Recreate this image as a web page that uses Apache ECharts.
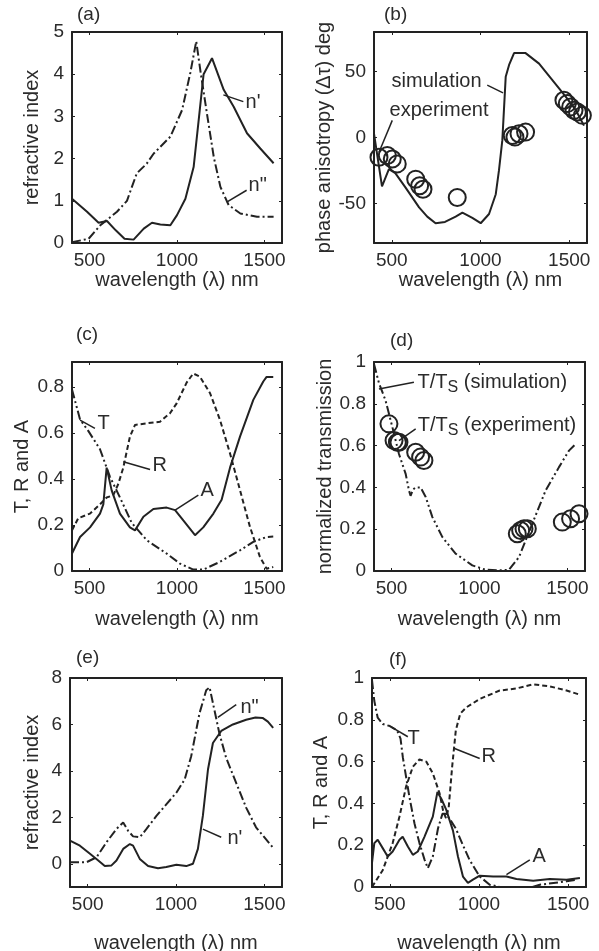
<!DOCTYPE html>
<html>
<head>
<meta charset="utf-8">
<script src="https://cdn.jsdelivr.net/npm/echarts@6/dist/echarts.min.js"></script>
<style>
  html, body { margin: 0; background: #fff; }
  #chart { width: 599px; height: 951px; }
</style>
</head>
<body>
<div id="chart"></div>
<script>
const xTicks = [500, 1000, 1500];
const aYTicks = [0, 1, 2, 3, 4, 5];
const bYTicks = [-50, 0, 50];
const cYTicks = [0, 0.2, 0.4, 0.6, 0.8];
const dYTicks = [0, 0.2, 0.4, 0.6, 0.8, 1];
const eYTicks = [0, 2, 4, 6, 8];
const fYTicks = [0, 0.2, 0.4, 0.6, 0.8, 1];

// (a) refractive index, n' and n"
const aNReal = [[400,1.05],[486,0.74],[552,0.48],[600,0.52],[650,0.3],[700,0.1],[752,0.08],[810,0.34],[857,0.48],[905,0.44],[962,0.42],[1000,0.66],[1048,1.05],[1095,1.8],[1130,3.15],[1152,4.0],[1200,4.38],[1267,3.63],[1324,3.23],[1400,2.6],[1476,2.24],[1552,1.89]];
const aNImag = [[400,0.02],[495,0.1],[562,0.42],[657,0.74],[714,1.0],[770,1.65],[827,1.88],[867,2.12],[962,2.52],[1029,3.15],[1076,4.03],[1110,4.78],[1133,4.1],[1171,3.07],[1210,2.04],[1248,1.33],[1295,0.9],[1362,0.7],[1457,0.62],[1552,0.62]];

// (b) phase anisotropy
const bSim = [[400,3],[445,-37],[484,-24],[520,-27],[578,-38],[654,-53],[700,-60],[747,-65],[800,-64],[860,-60],[898,-57],[954,-61],[1001,-65],[1048,-58],[1086,-43],[1104,-25],[1123,-2],[1142,46],[1161,55],[1189,64],[1254,64],[1330,56],[1405,43.5],[1480,31],[1536,21],[1583,9]];
const bExp = [[428,-15],[475,-13.7],[503,-16.3],[531,-20],[635,-31.6],[657,-36.6],[676,-39.2],[869,-45.5],[1179,1.5],[1194,0.3],[1217,2.8],[1254,4.1],[1470,28.2],[1489,25.7],[1508,23.2],[1527,20.6],[1546,19.3],[1574,16.8]];

// (c) T, R and A
const cT = [[400,0.79],[446,0.66],[493,0.61],[560,0.53],[617,0.41],[674,0.32],[741,0.21],[827,0.134],[941,0.076],[1017,0.032],[1093,0.006],[1150,0.006],[1246,0.04],[1360,0.09],[1436,0.127],[1512,0.148],[1550,0.15]];
const cR = [[400,0.177],[436,0.23],[503,0.25],[560,0.29],[598,0.32],[636,0.33],[665,0.38],[693,0.45],[731,0.585],[760,0.636],[827,0.643],[903,0.65],[960,0.687],[998,0.73],[1055,0.82],[1093,0.86],[1131,0.846],[1189,0.774],[1246,0.657],[1303,0.512],[1360,0.352],[1417,0.192],[1474,0.061],[1512,0.01],[1550,0.017]];
const cA = [[400,0.076],[446,0.148],[503,0.19],[560,0.25],[579,0.29],[598,0.45],[627,0.35],[674,0.25],[731,0.19],[760,0.177],[808,0.236],[865,0.27],[941,0.276],[989,0.265],[1036,0.22],[1103,0.156],[1150,0.19],[1208,0.25],[1255,0.31],[1303,0.45],[1360,0.585],[1436,0.745],[1493,0.825],[1512,0.845],[1550,0.845]];

// (d) normalized transmission
const dSim = [[400,0.99],[428,0.9],[466,0.815],[504,0.69],[542,0.56],[580,0.465],[599,0.385],[608,0.36],[622,0.39],[637,0.4],[665,0.4],[694,0.354],[732,0.258],[789,0.162],[864,0.083],[959,0.027],[1035,0.006],[1111,0.003],[1168,0.006],[1225,0.067],[1300,0.226],[1376,0.385],[1452,0.497],[1509,0.576],[1547,0.608]];
const dExp = [[485,0.704],[514,0.624],[533,0.616],[542,0.616],[637,0.568],[665,0.545],[684,0.529],[1215,0.178],[1234,0.194],[1253,0.202],[1272,0.202],[1471,0.234],[1518,0.25],[1566,0.274]];

// (e) refractive index
const eNReal = [[400,1.0],[456,0.78],[513,0.43],[560,0.14],[597,-0.1],[635,-0.07],[663,0.14],[701,0.64],[739,0.85],[757,0.78],[795,0.21],[842,-0.1],[898,-0.19],[945,-0.14],[1002,-0.04],[1058,-0.1],[1096,0.0],[1124,0.64],[1152,2.06],[1181,4.06],[1209,5.2],[1256,5.72],[1322,6.0],[1397,6.2],[1450,6.3],[1490,6.28],[1520,6.12],[1550,5.85]];
const eNImag = [[400,0.07],[494,0.07],[550,0.28],[607,0.93],[663,1.5],[701,1.78],[729,1.42],[757,1.18],[795,1.14],[833,1.5],[889,2.06],[945,2.56],[1002,3.06],[1049,3.63],[1086,4.63],[1133,6.48],[1171,7.47],[1190,7.6],[1218,6.6],[1246,5.6],[1284,4.56],[1340,3.49],[1397,2.42],[1453,1.57],[1547,0.71]];

// (f) T, R and A
const fT = [[400,0.99],[413,0.89],[432,0.81],[460,0.78],[500,0.77],[540,0.75],[560,0.71],[573,0.62],[610,0.43],[638,0.305],[666,0.21],[695,0.13],[713,0.09],[741,0.146],[770,0.28],[795,0.35],[815,0.35],[840,0.32],[870,0.28],[910,0.2],[947,0.13],[1004,0.05],[1060,0.011],[1116,0.0],[1300,0.0],[1341,0.011],[1491,0.027],[1548,0.035]];
const fR = [[400,0.0],[460,0.08],[516,0.21],[554,0.337],[591,0.48],[629,0.575],[666,0.61],[704,0.6],[741,0.544],[779,0.448],[800,0.36],[815,0.33],[830,0.38],[850,0.58],[870,0.75],[895,0.83],[930,0.86],[1004,0.9],[1116,0.94],[1210,0.95],[1304,0.97],[1397,0.96],[1491,0.94],[1566,0.92]];
const fA = [[400,0.115],[413,0.21],[432,0.226],[460,0.186],[488,0.146],[516,0.17],[554,0.226],[572,0.24],[601,0.194],[629,0.154],[657,0.17],[694,0.24],[741,0.337],[767,0.455],[790,0.42],[816,0.37],[854,0.27],[882,0.146],[910,0.05],[938,0.02],[966,0.035],[1004,0.054],[1079,0.05],[1154,0.05],[1210,0.038],[1304,0.03],[1397,0.038],[1491,0.035],[1566,0.043]];

// annotation text [x, y, text] and leader lines [x1, y1, x2, y2]
const aNotes = [[1389,3.32,"n'"],[1406,1.37,'n"']];
const aLeaders = [[1265,3.51,1379,3.35],[1284,0.97,1398,1.25]];
const bNotes = [[496,42.2,'simulation'],[485,20.6,'experiment']];
const bLeaders = [[1038,39.7,1127,33.8],[503,13,428,-11.2]];
const cNotes = [[543,0.643,'T'],[857,0.461,'R'],[1131,0.352,'A']];
const cLeaders = [[446,0.657,531,0.621],[693,0.476,846,0.442],[989,0.265,1122,0.33]];
const dNotes = [[645,0.9,'{a|T/T}{s|S}{a| (simulation)}'],[646,0.696,'{a|T/T}{s|S}{a| (experiment)}']];
const dLeaders = [[428,0.871,627,0.903],[542,0.624,637,0.68]];
const eNotes = [[1362,6.75,'n"'],[1288,1.07,"n'"]];
const eLeaders = [[1237,6.3,1341,6.85],[1152,1.49,1256,1.14]];
const fNotes = [[596,0.71,'T'],[1011,0.623,'R'],[1297,0.146,'A']];
const fLeaders = [[507,0.766,601,0.719],[863,0.663,1004,0.615],[1154,0.059,1285,0.13]];

const INK = '#222';
const TEXT = '#2b2b2b';
const FONT = '"Liberation Sans", Arial, Helvetica, sans-serif';
const DASH = [5, 3];
const DASHDOT = [9, 3, 2, 3];
const DASHDOTDOT = [9, 3, 2, 3, 2, 3];

const panels = [
  { tag: '(a)', tagPos: [77, 5], box: [72, 32, 210, 211], y: [0, 5], yTicks: aYTicks,
    yName: 'refractive index', yGap: 30, xGap: 26,
    lines: [[aNReal, 'solid'], [aNImag, DASHDOT]], circles: null, notes: aNotes, leaders: aLeaders },
  { tag: '(b)', tagPos: [384, 5], box: [374, 32, 213, 211], y: [-80, 80], yTicks: bYTicks,
    yName: 'phase anisotropy (\u0394\u03c4) deg', yGap: 38, xGap: 26,
    lines: [[bSim, 'solid']], circles: bExp, notes: bNotes, leaders: bLeaders },
  { tag: '(c)', tagPos: [76, 325], box: [72, 362, 210, 209], y: [0, 0.91], yTicks: cYTicks,
    yName: 'T, R and A', yGap: 40, xGap: 38,
    lines: [[cT, DASHDOTDOT], [cR, DASH], [cA, 'solid']], circles: null, notes: cNotes, leaders: cLeaders },
  { tag: '(d)', tagPos: [390, 331], box: [374, 362, 211, 209], y: [0, 1], yTicks: dYTicks,
    yName: 'normalized transmission', yGap: 38, xGap: 38,
    lines: [[dSim, DASHDOTDOT]], circles: dExp, notes: dNotes, leaders: dLeaders },
  { tag: '(e)', tagPos: [76, 648], box: [70, 678, 212, 209], y: [-1, 8], yTicks: eYTicks,
    yName: 'refractive index', yGap: 28, xGap: 46,
    lines: [[eNReal, 'solid'], [eNImag, DASHDOT]], circles: null, notes: eNotes, leaders: eLeaders },
  { tag: '(f)', tagPos: [389, 650], box: [372, 678, 214, 209], y: [0, 1], yTicks: fYTicks,
    yName: 'T, R and A', yGap: 41, xGap: 46,
    lines: [[fT, DASHDOT], [fR, DASH], [fA, 'solid']], circles: null, notes: fNotes, leaders: fLeaders }
];

const option = {
  animation: false,
  backgroundColor: '#fff',
  title: [], grid: [], xAxis: [], yAxis: [], series: []
};

const tickStyle = { inside: true, length: 3, lineStyle: { color: INK, width: 1 } };
const lineAxis = { onZero: false, lineStyle: { color: INK, width: 2 } };
const labelText = { color: TEXT, fontSize: 19, fontFamily: FONT, formatter: v => String(v) };

panels.forEach((p, i) => {
  option.title.push({
    text: p.tag, left: p.tagPos[0], top: p.tagPos[1], padding: 0,
    textStyle: { color: TEXT, fontSize: 19, fontWeight: 'normal', fontFamily: FONT }
  });
  // fixed boxes: do not let the grid shrink to fit names inside the canvas
  option.grid.push({
    left: p.box[0], top: p.box[1], width: p.box[2], height: p.box[3],
    containLabel: false, outerBoundsMode: 'none'
  });

  const xi = option.xAxis.length;
  option.xAxis.push({
    type: 'value', gridIndex: i, min: 400, max: 1600, position: 'bottom',
    name: 'wavelength (\u03bb) nm', nameLocation: 'middle', nameGap: p.xGap,
    nameTextStyle: { color: TEXT, fontSize: 20, fontFamily: FONT },
    axisLine: lineAxis,
    axisTick: Object.assign({ customValues: xTicks }, tickStyle),
    axisLabel: Object.assign({ customValues: xTicks, margin: 8 }, labelText),
    splitLine: { show: false }
  });
  option.xAxis.push({
    type: 'value', gridIndex: i, min: 400, max: 1600, position: 'top',
    axisLine: lineAxis,
    axisTick: Object.assign({ customValues: xTicks }, tickStyle),
    axisLabel: { show: false }, splitLine: { show: false }
  });
  const yi = option.yAxis.length;
  option.yAxis.push({
    type: 'value', gridIndex: i, min: p.y[0], max: p.y[1], position: 'left',
    name: p.yName, nameLocation: 'middle', nameGap: p.yGap, nameRotate: 90,
    nameTextStyle: { color: TEXT, fontSize: 20, fontFamily: FONT },
    axisLine: lineAxis,
    axisTick: Object.assign({ customValues: p.yTicks }, tickStyle),
    axisLabel: Object.assign({ customValues: p.yTicks, margin: 8 }, labelText),
    splitLine: { show: false }
  });
  option.yAxis.push({
    type: 'value', gridIndex: i, min: p.y[0], max: p.y[1], position: 'right',
    axisLine: lineAxis,
    axisTick: Object.assign({ customValues: p.yTicks }, tickStyle),
    axisLabel: { show: false }, splitLine: { show: false }
  });

  p.lines.forEach(([data, type]) => {
    option.series.push({
      type: 'line', xAxisIndex: xi, yAxisIndex: yi, data: data,
      symbol: 'none', silent: true,
      lineStyle: { color: INK, width: 2, type: type }
    });
  });

  if (p.circles) {
    option.series.push({
      type: 'scatter', xAxisIndex: xi, yAxisIndex: yi, data: p.circles,
      symbol: 'circle', symbolSize: 17, silent: true,
      itemStyle: { color: 'rgba(0,0,0,0)', borderColor: INK, borderWidth: 2, opacity: 1 }
    });
  }

  option.series.push({
    type: 'lines', coordinateSystem: 'cartesian2d', xAxisIndex: xi, yAxisIndex: yi,
    silent: true,
    data: p.leaders.map(l => ({ coords: [[l[0], l[1]], [l[2], l[3]]] })),
    lineStyle: { color: INK, width: 1.5, type: 'solid', opacity: 1 }
  });

  option.series.push({
    type: 'scatter', xAxisIndex: xi, yAxisIndex: yi, silent: true,
    symbolSize: 1, itemStyle: { color: 'rgba(0,0,0,0)', opacity: 1 },
    data: p.notes.map(n => ({ value: [n[0], n[1]], name: n[2] })),
    label: {
      show: true, position: 'right', distance: 0, formatter: '{b}',
      color: TEXT, fontSize: 20, fontFamily: FONT, opacity: 1,
      rich: {
        a: { color: TEXT, fontSize: 20, fontFamily: FONT, lineHeight: 26, verticalAlign: 'middle' },
        s: { color: TEXT, fontSize: 16, fontFamily: FONT, lineHeight: 14, verticalAlign: 'bottom' }
      }
    }
  });
});

const chart = echarts.init(document.getElementById('chart'));
chart.setOption(option);
</script>
</body>
</html>
